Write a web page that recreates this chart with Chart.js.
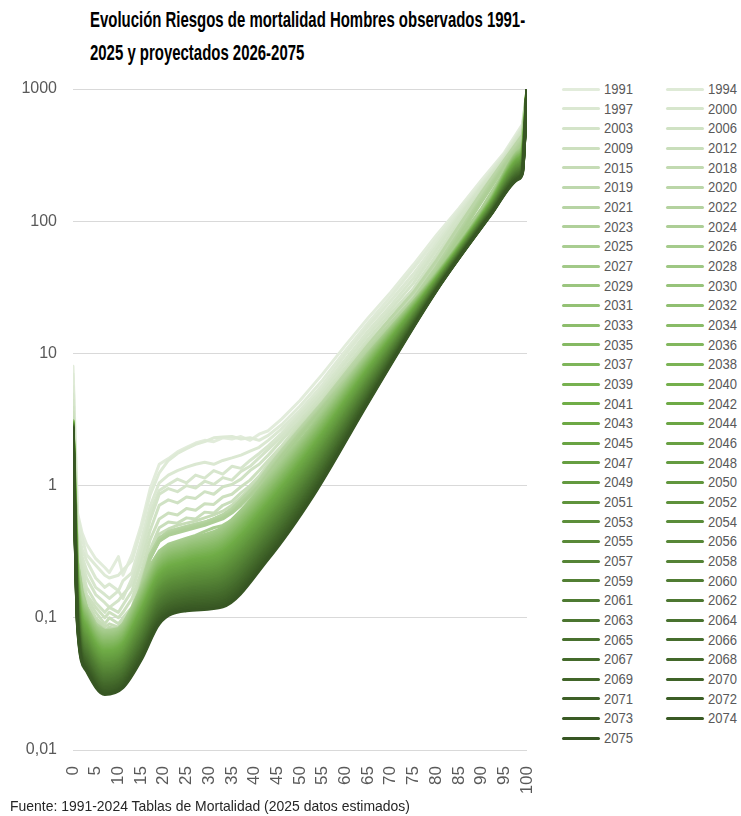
<!DOCTYPE html>
<html>
<head>
<meta charset="utf-8">
<script src="https://cdn.jsdelivr.net/npm/chart.js@4.4.1/dist/chart.umd.min.js"></script>
<style>
  body { margin: 0; background: #fff; width: 741px; height: 816px; position: relative; overflow: hidden;
         font-family: "Liberation Sans", Arial, sans-serif; }
  #title { position: absolute; left: 90px; top: 4px; font-weight: bold; font-size: 21.5px; line-height: 33px; color: #000;
           white-space: nowrap; transform: scaleX(0.695); transform-origin: 0 0; }
  #chartBox { position: absolute; left: 0; top: 0; }
  .item { position: absolute; height: 20px; line-height: 20px; font-size: 15px; color: #595959; white-space: nowrap; }
  .item .sw { position: absolute; left: 0; top: 8.5px; width: 38px; height: 3px; border-radius: 2px; }
  .item .lb { position: absolute; left: 42px; top: 0; transform: scaleX(0.87); transform-origin: 0 0; }
  #source { position: absolute; left: 10px; top: 797px; font-size: 15px; color: #262626; white-space: nowrap;
            transform: scaleX(0.93); transform-origin: 0 0; }
</style>
</head>
<body>
<div id="title">Evolución Riesgos de mortalidad Hombres observados 1991-<br>2025 y proyectados 2026-2075</div>
<div id="chartBox"><canvas id="mortChart" width="557" height="816"></canvas></div>
<div id="legend"></div>
<div id="source">Fuente: 1991-2024 Tablas de Mortalidad (2025 datos estimados)</div>
<script>
// ages (x) for the observed tables and for the projections
var agesObs = [0, 1, 2, 3, 5, 7, 8, 10, 11, 13, 15, 17, 19, 21, 23, 25, 27, 29, 31, 33, 35, 37, 39, 41, 43, 46, 50, 55, 60, 65, 70, 75, 80, 85, 90, 95, 99, 100];
var agesProj = [0, 1, 3, 7, 11, 15, 19, 25, 33, 43, 53, 65, 80, 92, 98, 99, 100];

// observed years, q(x) per mil
var obsYears = [1991, 1994, 1997, 2000, 2003, 2006, 2009, 2012, 2015, 2018, 2019, 2020, 2021, 2022, 2023, 2024, 2025];
var obsRates = [
  [8.0, 0.62, 0.44, 0.36, 0.28, 0.24, 0.22, 0.29, 0.21, 0.3, 0.5, 0.95, 1.45, 1.6, 1.8, 1.95, 2.1, 2.2, 2.15, 2.3, 2.25, 2.35, 2.2, 2.45, 2.6, 3.2, 4.4, 7.0, 11.5, 18.5, 29, 47, 78, 125, 205, 330, 540, 1000],
  [7.0, 0.58, 0.4, 0.3, 0.25, 0.21, 0.2, 0.21, 0.23, 0.27, 0.46, 0.85, 1.25, 1.55, 1.75, 1.9, 2.05, 2.15, 2.3, 2.33, 2.35, 2.25, 2.3, 2.2, 2.4, 2.9, 4.0, 6.3, 10.5, 17, 27, 44, 73, 120, 195, 320, 520, 1000],
  [5.6, 0.48, 0.33, 0.27, 0.2, 0.17, 0.18, 0.16, 0.19, 0.22, 0.38, 0.7, 1.05, 1.2, 1.3, 1.38, 1.45, 1.5, 1.45, 1.55, 1.62, 1.7, 1.82, 1.95, 2.2, 2.7, 3.7, 5.8, 9.8, 16, 25, 40, 68, 115, 190, 315, 510, 1000],
  [4.9, 0.42, 0.29, 0.23, 0.17, 0.15, 0.14, 0.16, 0.14, 0.2, 0.33, 0.62, 0.92, 1.02, 1.12, 1.05, 1.2, 1.14, 1.3, 1.22, 1.4, 1.35, 1.55, 1.75, 2.0, 2.5, 3.5, 5.4, 9.0, 14.8, 23, 37, 64, 110, 185, 305, 500, 1000],
  [4.4, 0.38, 0.26, 0.2, 0.15, 0.13, 0.12, 0.135, 0.15, 0.18, 0.3, 0.55, 0.86, 0.95, 0.9, 1.0, 0.96, 1.08, 1.02, 1.15, 1.1, 1.28, 1.4, 1.62, 1.88, 2.35, 3.3, 5.1, 8.4, 13.8, 21.5, 34, 60, 106, 180, 300, 490, 1000],
  [3.9, 0.33, 0.23, 0.17, 0.13, 0.11, 0.12, 0.11, 0.125, 0.16, 0.26, 0.46, 0.71, 0.78, 0.74, 0.82, 0.8, 0.9, 0.86, 0.98, 1.02, 1.12, 1.3, 1.45, 1.7, 2.2, 3.1, 4.8, 7.8, 12.8, 20, 31, 55, 98, 170, 290, 470, 1000],
  [3.6, 0.31, 0.2, 0.15, 0.12, 0.1, 0.11, 0.1, 0.11, 0.14, 0.22, 0.39, 0.56, 0.62, 0.6, 0.67, 0.65, 0.73, 0.72, 0.82, 0.86, 0.98, 1.1, 1.3, 1.55, 2.0, 2.95, 4.5, 7.4, 12, 18.5, 29, 51, 92, 165, 280, 455, 1000],
  [3.3, 0.28, 0.18, 0.14, 0.11, 0.09, 0.1, 0.09, 0.1, 0.12, 0.2, 0.33, 0.48, 0.53, 0.52, 0.57, 0.56, 0.63, 0.62, 0.71, 0.76, 0.88, 1.0, 1.18, 1.45, 1.9, 2.8, 4.3, 7.0, 11.3, 17.6, 27.5, 48, 88, 160, 275, 440, 1000],
  [3.1, 0.27, 0.17, 0.13, 0.1, 0.085, 0.09, 0.085, 0.095, 0.11, 0.19, 0.31, 0.43, 0.47, 0.5, 0.52, 0.54, 0.57, 0.6, 0.64, 0.71, 0.82, 0.95, 1.12, 1.38, 1.85, 2.7, 4.2, 6.8, 10.9, 17, 26.5, 46, 86, 158, 280, 430, 1000],
  [3.0, 0.26, 0.16, 0.12, 0.095, 0.08, 0.085, 0.082, 0.09, 0.105, 0.18, 0.3, 0.4, 0.45, 0.47, 0.49, 0.51, 0.53, 0.56, 0.6, 0.67, 0.78, 0.9, 1.07, 1.32, 1.78, 2.6, 4.1, 6.6, 10.6, 16.3, 25.5, 44, 81, 150, 270, 420, 1000],
  [2.9, 0.27, 0.15, 0.12, 0.09, 0.082, 0.08, 0.085, 0.088, 0.1, 0.17, 0.29, 0.39, 0.44, 0.46, 0.48, 0.5, 0.52, 0.55, 0.59, 0.65, 0.75, 0.88, 1.05, 1.3, 1.75, 2.55, 4.0, 6.5, 10.4, 16, 25, 43, 79, 145, 265, 410, 1000],
  [2.7, 0.24, 0.15, 0.11, 0.09, 0.08, 0.078, 0.08, 0.085, 0.1, 0.17, 0.28, 0.38, 0.43, 0.45, 0.48, 0.5, 0.53, 0.56, 0.6, 0.67, 0.78, 0.92, 1.1, 1.38, 1.85, 2.7, 4.3, 7.1, 11.6, 18.5, 29, 50, 92, 165, 290, 450, 1000],
  [2.8, 0.26, 0.16, 0.12, 0.09, 0.08, 0.082, 0.08, 0.088, 0.105, 0.18, 0.3, 0.4, 0.45, 0.47, 0.49, 0.51, 0.53, 0.56, 0.6, 0.66, 0.77, 0.9, 1.08, 1.34, 1.8, 2.65, 4.2, 6.8, 10.8, 17, 26, 45, 83, 152, 275, 420, 1000],
  [2.9, 0.25, 0.15, 0.11, 0.088, 0.078, 0.08, 0.078, 0.085, 0.1, 0.17, 0.3, 0.4, 0.44, 0.46, 0.48, 0.5, 0.52, 0.55, 0.58, 0.64, 0.74, 0.86, 1.03, 1.28, 1.72, 2.55, 4.05, 6.5, 10.4, 16.3, 25.5, 44, 81, 150, 270, 410, 1000],
  [2.8, 0.26, 0.15, 0.12, 0.09, 0.08, 0.078, 0.08, 0.083, 0.1, 0.17, 0.29, 0.38, 0.43, 0.45, 0.47, 0.49, 0.51, 0.54, 0.57, 0.63, 0.73, 0.85, 1.01, 1.25, 1.7, 2.5, 3.95, 6.3, 10.1, 15.8, 24.5, 42, 78, 145, 262, 400, 1000],
  [3.0, 0.25, 0.14, 0.12, 0.088, 0.078, 0.079, 0.078, 0.082, 0.095, 0.165, 0.28, 0.38, 0.42, 0.44, 0.46, 0.48, 0.5, 0.53, 0.56, 0.62, 0.71, 0.83, 0.99, 1.22, 1.66, 2.45, 3.9, 6.2, 9.9, 15.5, 24, 41, 76, 140, 255, 390, 1000],
  [3.1, 0.26, 0.16, 0.12, 0.085, 0.08, 0.08, 0.083, 0.09, 0.12, 0.17, 0.25, 0.32, 0.36, 0.38, 0.4, 0.42, 0.45, 0.48, 0.5, 0.55, 0.64, 0.76, 0.92, 1.15, 1.55, 2.35, 3.8, 6.0, 10, 15.5, 24, 40, 72, 125, 235, 380, 1000]
];

// projected years, q(x) per mil at agesProj
var projYears = [2026, 2027, 2028, 2029, 2030, 2031, 2032, 2033, 2034, 2035, 2036, 2037, 2038, 2039, 2040, 2041, 2042, 2043, 2044, 2045,
  2046, 2047, 2048, 2049, 2050, 2051, 2052, 2053, 2054, 2055, 2056, 2057, 2058, 2059, 2060, 2061, 2062, 2063, 2064, 2065,
  2066, 2067, 2068, 2069, 2070, 2071, 2072, 2073, 2074, 2075];
var projRates = [
  [3.09, 0.254, 0.117, 0.0782, 0.088, 0.166, 0.312, 0.39, 0.486, 1.118, 2.93, 9.83, 39.8, 149, 338, 376, 1000],
  [3.08, 0.249, 0.115, 0.0765, 0.0861, 0.162, 0.304, 0.38, 0.472, 1.087, 2.85, 9.66, 39.5, 148, 335, 372, 1000],
  [3.08, 0.243, 0.112, 0.0748, 0.0842, 0.158, 0.297, 0.371, 0.459, 1.056, 2.78, 9.5, 39.3, 147, 332, 369, 1000],
  [3.07, 0.238, 0.11, 0.0732, 0.0823, 0.154, 0.289, 0.361, 0.446, 1.026, 2.71, 9.34, 39.0, 146, 329, 365, 1000],
  [3.06, 0.233, 0.107, 0.0716, 0.0805, 0.15, 0.282, 0.352, 0.434, 0.998, 2.64, 9.18, 38.8, 146, 325, 361, 1000],
  [3.05, 0.228, 0.105, 0.07, 0.0788, 0.146, 0.275, 0.344, 0.422, 0.97, 2.58, 9.02, 38.6, 145, 322, 358, 1000],
  [3.04, 0.223, 0.103, 0.0685, 0.077, 0.142, 0.268, 0.335, 0.41, 0.943, 2.51, 8.87, 38.4, 144, 319, 354, 1000],
  [3.04, 0.218, 0.1, 0.067, 0.0753, 0.139, 0.261, 0.327, 0.398, 0.916, 2.45, 8.72, 38.1, 143, 316, 351, 1000],
  [3.03, 0.213, 0.0982, 0.0655, 0.0737, 0.135, 0.255, 0.318, 0.387, 0.891, 2.39, 8.57, 37.9, 142, 312, 347, 1000],
  [3.02, 0.208, 0.0961, 0.064, 0.072, 0.132, 0.248, 0.311, 0.376, 0.866, 2.33, 8.42, 37.7, 141, 310, 344, 1000],
  [3.01, 0.204, 0.0939, 0.0626, 0.0705, 0.129, 0.242, 0.303, 0.366, 0.841, 2.27, 8.28, 37.4, 140, 306, 340, 1000],
  [3.0, 0.199, 0.0919, 0.0613, 0.0689, 0.125, 0.236, 0.295, 0.356, 0.818, 2.21, 8.14, 37.2, 140, 303, 337, 1000],
  [3.0, 0.195, 0.0899, 0.0599, 0.0674, 0.122, 0.23, 0.288, 0.346, 0.795, 2.16, 8.0, 37.0, 139, 300, 333, 1000],
  [2.99, 0.19, 0.0879, 0.0586, 0.0659, 0.119, 0.225, 0.281, 0.336, 0.773, 2.1, 7.87, 36.8, 138, 297, 330, 1000],
  [2.98, 0.186, 0.0859, 0.0573, 0.0645, 0.116, 0.219, 0.274, 0.327, 0.751, 2.05, 7.73, 36.5, 137, 294, 327, 1000],
  [2.97, 0.182, 0.084, 0.056, 0.063, 0.113, 0.213, 0.267, 0.317, 0.73, 2.0, 7.6, 36.3, 136, 292, 324, 1000],
  [2.96, 0.178, 0.0822, 0.0548, 0.0617, 0.111, 0.208, 0.26, 0.309, 0.71, 1.95, 7.47, 36.1, 135, 288, 320, 1000],
  [2.96, 0.174, 0.0804, 0.0536, 0.0603, 0.108, 0.203, 0.254, 0.3, 0.69, 1.9, 7.34, 35.9, 135, 285, 317, 1000],
  [2.95, 0.17, 0.0786, 0.0524, 0.059, 0.105, 0.198, 0.247, 0.292, 0.67, 1.85, 7.22, 35.7, 134, 283, 314, 1000],
  [2.94, 0.167, 0.0769, 0.0513, 0.0577, 0.102, 0.193, 0.241, 0.283, 0.652, 1.81, 7.1, 35.5, 133, 280, 311, 1000],
  [2.93, 0.163, 0.0752, 0.0501, 0.0564, 0.0999, 0.188, 0.235, 0.275, 0.633, 1.76, 6.98, 35.3, 132, 277, 308, 1000],
  [2.92, 0.159, 0.0735, 0.049, 0.0552, 0.0974, 0.183, 0.229, 0.268, 0.616, 1.72, 6.86, 35.0, 131, 275, 305, 1000],
  [2.92, 0.156, 0.0719, 0.048, 0.0539, 0.095, 0.179, 0.223, 0.26, 0.598, 1.68, 6.74, 34.8, 131, 272, 302, 1000],
  [2.91, 0.152, 0.0703, 0.0469, 0.0528, 0.0926, 0.174, 0.218, 0.253, 0.582, 1.63, 6.63, 34.6, 130, 269, 299, 1000],
  [2.9, 0.149, 0.0688, 0.0459, 0.0516, 0.0903, 0.17, 0.212, 0.246, 0.565, 1.59, 6.51, 34.4, 129, 266, 296, 1000],
  [2.89, 0.146, 0.0673, 0.0449, 0.0505, 0.088, 0.166, 0.207, 0.239, 0.55, 1.55, 6.4, 34.2, 128, 264, 293, 1000],
  [2.88, 0.143, 0.0658, 0.0439, 0.0494, 0.0858, 0.162, 0.202, 0.232, 0.534, 1.51, 6.29, 34.0, 128, 261, 290, 1000],
  [2.88, 0.139, 0.0644, 0.0429, 0.0483, 0.0837, 0.158, 0.197, 0.226, 0.519, 1.48, 6.19, 33.8, 127, 258, 287, 1000],
  [2.87, 0.136, 0.0629, 0.042, 0.0472, 0.0816, 0.154, 0.192, 0.219, 0.505, 1.44, 6.08, 33.6, 126, 256, 284, 1000],
  [2.86, 0.133, 0.0616, 0.041, 0.0462, 0.0795, 0.15, 0.187, 0.213, 0.491, 1.4, 5.98, 33.4, 125, 253, 281, 1000],
  [2.85, 0.13, 0.0602, 0.0401, 0.0452, 0.0776, 0.146, 0.182, 0.207, 0.477, 1.37, 5.88, 33.2, 124, 250, 278, 1000],
  [2.84, 0.128, 0.0589, 0.0393, 0.0442, 0.0756, 0.142, 0.178, 0.202, 0.463, 1.33, 5.78, 33.0, 124, 248, 276, 1000],
  [2.84, 0.125, 0.0576, 0.0384, 0.0432, 0.0737, 0.139, 0.173, 0.196, 0.451, 1.3, 5.68, 32.8, 123, 246, 273, 1000],
  [2.83, 0.122, 0.0563, 0.0375, 0.0422, 0.0719, 0.135, 0.169, 0.19, 0.438, 1.27, 5.58, 32.6, 122, 243, 270, 1000],
  [2.82, 0.119, 0.0551, 0.0367, 0.0413, 0.0701, 0.132, 0.165, 0.185, 0.426, 1.24, 5.49, 32.4, 122, 240, 267, 1000],
  [2.81, 0.117, 0.0539, 0.0359, 0.0404, 0.0683, 0.129, 0.161, 0.18, 0.414, 1.21, 5.39, 32.2, 121, 239, 265, 1000],
  [2.8, 0.114, 0.0527, 0.0351, 0.0395, 0.0666, 0.125, 0.157, 0.175, 0.402, 1.18, 5.3, 32.0, 120, 236, 262, 1000],
  [2.8, 0.112, 0.0515, 0.0343, 0.0386, 0.065, 0.122, 0.153, 0.17, 0.391, 1.15, 5.21, 31.8, 119, 233, 259, 1000],
  [2.79, 0.109, 0.0504, 0.0336, 0.0378, 0.0633, 0.119, 0.149, 0.165, 0.38, 1.12, 5.12, 31.6, 119, 231, 257, 1000],
  [2.78, 0.107, 0.0493, 0.0328, 0.037, 0.0618, 0.116, 0.145, 0.161, 0.369, 1.09, 5.04, 31.4, 118, 229, 254, 1000],
  [2.77, 0.104, 0.0482, 0.0321, 0.0361, 0.0602, 0.113, 0.142, 0.156, 0.359, 1.06, 4.95, 31.3, 117, 227, 252, 1000],
  [2.76, 0.102, 0.0471, 0.0314, 0.0354, 0.0587, 0.11, 0.138, 0.152, 0.349, 1.04, 4.87, 31.1, 117, 224, 249, 1000],
  [2.76, 0.0999, 0.0461, 0.0307, 0.0346, 0.0572, 0.108, 0.135, 0.147, 0.339, 1.01, 4.79, 30.9, 116, 222, 247, 1000],
  [2.75, 0.0977, 0.0451, 0.0301, 0.0338, 0.0558, 0.105, 0.131, 0.143, 0.33, 0.985, 4.7, 30.7, 115, 220, 244, 1000],
  [2.74, 0.0955, 0.0441, 0.0294, 0.0331, 0.0544, 0.102, 0.128, 0.139, 0.32, 0.96, 4.62, 30.5, 114, 218, 242, 1000],
  [2.73, 0.0934, 0.0431, 0.0287, 0.0323, 0.0531, 0.0999, 0.125, 0.135, 0.311, 0.936, 4.55, 30.3, 114, 215, 239, 1000],
  [2.72, 0.0914, 0.0422, 0.0281, 0.0316, 0.0517, 0.0974, 0.122, 0.132, 0.303, 0.913, 4.47, 30.1, 113, 213, 237, 1000],
  [2.72, 0.0894, 0.0412, 0.0275, 0.0309, 0.0504, 0.0949, 0.119, 0.128, 0.294, 0.89, 4.39, 30.0, 112, 212, 235, 1000],
  [2.71, 0.0874, 0.0403, 0.0269, 0.0302, 0.0492, 0.0926, 0.116, 0.124, 0.286, 0.868, 4.32, 29.8, 112, 209, 232, 1000],
  [2.7, 0.0855, 0.0394, 0.0263, 0.0296, 0.0479, 0.0902, 0.113, 0.121, 0.278, 0.846, 4.24, 29.6, 111, 207, 230, 1000]
];

var yTickValues = [0.01, 0.1, 1, 10, 100, 1000];
var yTickLabels = ['0,01', '0,1', '1', '10', '100', '1000'];

var FONT = '"Liberation Sans", Arial, sans-serif';

// light green -> excel green -> dark green
function lineColor(j, n) {
  var light = [226, 236, 219], mid = [112, 173, 71], dark = [55, 86, 35];
  var split = 32, a, b, t;
  if (j <= split) { a = light; b = mid; t = j / split; }
  else { a = mid; b = dark; t = (j - split) / (n - 1 - split); }
  var c = a.map(function (v, k) { return Math.round(v + (b[k] - v) * t); });
  return 'rgb(' + c.join(',') + ')';
}

var allYears = obsYears.concat(projYears);
var datasets = [];

function addSeries(year, ages, values, smooth) {
  var j = datasets.length;
  var col = lineColor(j, allYears.length);
  datasets.push({
    label: String(year),
    data: ages.map(function (a, i) { return { x: a, y: values[i] }; }),
    borderColor: col,
    backgroundColor: col,
    borderWidth: 3,
    pointRadius: 0,
    fill: false,
    borderCapStyle: 'round',
    borderJoinStyle: 'round',
    cubicInterpolationMode: smooth ? 'monotone' : 'default',
    tension: 0,
    order: allYears.length - j   // later years painted on top
  });
}

obsYears.forEach(function (yr, i) { addSeries(yr, agesObs, obsRates[i], false); });
projYears.forEach(function (yr, i) { addSeries(yr, agesProj, projRates[i], true); });

var ctx = document.getElementById('mortChart').getContext('2d');
var chart = new Chart(ctx, {
  type: 'line',
  data: { datasets: datasets },
  options: {
    responsive: false,
    animation: false,
    layout: { padding: { top: 89, right: 30, bottom: 0, left: 0 } },
    plugins: { legend: { display: false }, tooltip: { enabled: false } },
    scales: {
      x: {
        type: 'linear', min: 0, max: 100,
        afterFit: function (s) { s.height = 66; },
        grid: { display: false },
        border: { display: false },
        ticks: { stepSize: 5, autoSkip: false, minRotation: 90, maxRotation: 90, padding: 8,
                 color: '#595959', font: { family: FONT, size: 17 } }
      },
      y: {
        type: 'logarithmic', min: 0.01, max: 1000,
        afterFit: function (s) { s.width = 73; },
        afterBuildTicks: function (s) { s.ticks = yTickValues.map(function (v) { return { value: v }; }); },
        grid: { color: '#d9d9d9', lineWidth: 1, drawTicks: false },
        border: { display: false },
        ticks: { padding: 16, color: '#595959', font: { family: FONT, size: 16 },
                 callback: function (v) { return yTickLabels[yTickValues.indexOf(v)]; } }
      }
    }
  }
});

// two-column legend, row by row like the original
var legend = document.getElementById('legend');
chart.data.datasets.forEach(function (ds, j) {
  var row = Math.floor(j / 2), col = j % 2;
  var el = document.createElement('div');
  el.className = 'item';
  el.style.left = (562 + col * 104) + 'px';
  el.style.top = (79 + row * 19.67) + 'px';
  el.innerHTML = '<span class="sw" style="background:' + ds.borderColor + '"></span><span class="lb">' + ds.label + '</span>';
  legend.appendChild(el);
});
</script>
</body>
</html>
